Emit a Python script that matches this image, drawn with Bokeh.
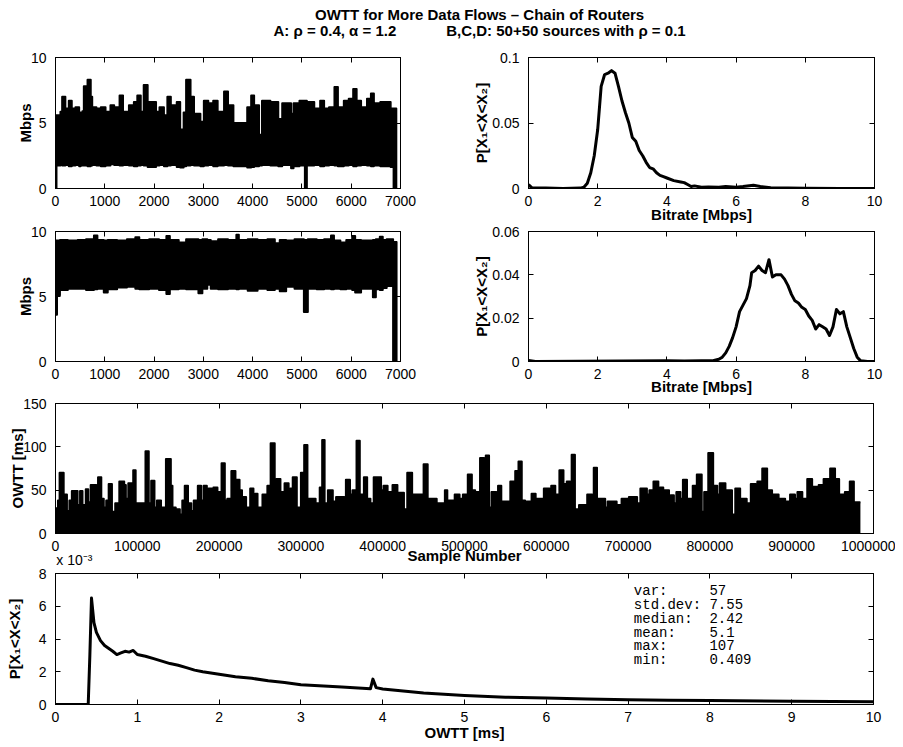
from bokeh.plotting import figure
from bokeh.layouts import column, row
from bokeh.models import Range1d, LinearAxis, FixedTicker, CustomJSTickFormatter, Label
from bokeh.embed import file_html
from bokeh.resources import INLINE

# ---------------- data ----------------
NB = "\u00a0"
title_line1 = "OWTT for More Data Flows – Chain of Routers"
title_line2 = "A: ρ = 0.4, α = 1.2" + NB * 12 + "B,C,D: 50+50 sources with ρ = 0.1"

# A: bitrate time series (upper / lower envelope of the dense trace)
rate_a_x = [0, 20, 100, 135, 200, 270, 330, 405, 480, 510,
            545, 575, 650, 715, 745, 830, 920, 1015, 1115, 1190,
            1300, 1370, 1490, 1590, 1660, 1730, 1790, 1870, 2040, 2110,
            2200, 2270, 2340, 2460, 2530, 2600, 2650, 2740, 2810, 2940,
            3010, 3100, 3200, 3290, 3420, 3500, 3610, 3890, 3970, 4030,
            4130, 4190, 4360, 4520, 4600, 4780, 4830, 4950, 5060, 5100,
            5250, 5370, 5450, 5550, 5660, 5730, 5850, 5950, 6040, 6110,
            6200, 6320, 6400, 6460, 6590, 6800, 6860, 6915]
rate_a_hi = [5.6, 5.6, 5.85, 7.0, 6.1, 6.7, 6.1, 6.2, 5.8, 4.5,
             5.9, 7.8, 8.3, 7.0, 6.2, 6.1, 6.2, 5.85, 6.35, 6.2,
             7.1, 5.85, 6.35, 6.6, 7.1, 5.85, 7.9, 6.6, 5.85, 6.2,
             5.6, 7.0, 6.35, 6.6, 4.5, 5.8, 8.3, 7.0, 5.7, 5.1,
             6.7, 6.5, 6.7, 5.85, 7.4, 6.35, 5.0, 6.2, 7.1, 6.35,
             4.1, 6.7, 6.6, 5.3, 6.5, 5.7, 6.5, 6.7, 6.7, 6.6,
             6.1, 6.7, 6.1, 6.2, 7.75, 6.2, 6.7, 6.85, 7.6, 6.7,
             6.2, 6.85, 7.25, 6.5, 6.6, 6.1, 6.1, 0]
rate_a_lo = [0, 1.75, 1.8, 1.75, 1.8, 1.7, 1.75, 1.8, 1.7, 1.75,
             1.8, 1.75, 1.7, 1.75, 1.8, 1.75, 1.7, 1.75, 1.85, 1.8,
             1.75, 1.8, 1.75, 1.7, 1.75, 1.8, 1.75, 1.65, 1.75, 1.8,
             1.7, 1.75, 1.8, 1.65, 1.6, 1.7, 1.75, 1.8, 1.75, 1.7,
             1.75, 1.8, 1.7, 1.75, 1.8, 1.75, 1.7, 1.6, 1.65, 1.7,
             1.75, 1.8, 1.75, 1.7, 1.8, 1.55, 1.7, 1.75, 0, 1.75,
             1.8, 1.7, 1.75, 1.8, 1.75, 1.7, 1.75, 1.8, 1.7, 1.75,
             1.8, 1.75, 1.7, 1.75, 1.7, 1.65, 0, 0]

# B: bitrate time series
rate_b_x = [0, 30, 90, 250, 450, 620, 780, 850, 980, 1060,
            1250, 1450, 1620, 1700, 1900, 2100, 2250, 2320, 2500, 2650,
            2900, 2980, 3080, 3150, 3300, 3500, 3670, 3720, 3900, 4100,
            4300, 4450, 4550, 4680, 4850, 5040, 5120, 5300, 5450, 5590,
            5650, 5780, 5900, 6020, 6080, 6200, 6440, 6500, 6580, 6640,
            6720, 6850, 6920]
rate_b_hi = [9.3, 9.3, 9.35, 9.3, 9.35, 9.4, 9.7, 9.35, 9.3, 9.35,
             9.3, 9.4, 9.55, 9.35, 9.4, 9.35, 9.65, 9.35, 9.15, 9.4,
             9.35, 9.4, 9.35, 9.25, 9.4, 9.35, 9.75, 9.35, 9.4, 9.35,
             9.4, 9.1, 9.35, 9.3, 9.4, 9.35, 9.4, 9.35, 9.4, 9.7,
             9.3, 9.15, 9.35, 9.65, 9.35, 9.3, 9.35, 9.4, 9.6, 9.35,
             9.4, 9.2, 0]
rate_b_lo = [3.6, 5.1, 5.5, 5.6, 5.6, 5.5, 5.55, 5.6, 5.3, 5.55,
             5.7, 5.75, 5.6, 5.55, 5.6, 5.5, 5.2, 5.55, 5.6, 5.55,
             5.25, 5.6, 5.9, 5.6, 5.55, 5.6, 5.55, 5.6, 5.45, 5.6,
             5.5, 5.6, 5.4, 5.75, 5.6, 3.8, 5.6, 5.55, 5.6, 5.55,
             5.6, 5.55, 5.6, 5.5, 5.3, 5.6, 4.95, 5.55, 5.5, 5.65,
             5.8, 0, 0]

# Bitrate PDFs
pdf_a_x = [0, 0.1, 0.5, 1.0, 1.5, 1.6, 1.7, 1.8, 1.9, 2.0,
           2.1, 2.2, 2.3, 2.4, 2.5, 2.6, 2.7, 2.8, 2.9, 3.0,
           3.1, 3.2, 3.3, 3.4, 3.5, 3.6, 3.7, 3.8, 3.9, 4.0,
           4.2, 4.4, 4.5, 4.6, 4.7, 4.8, 5.0, 5.2, 5.5, 5.7,
           6.0, 6.2, 6.5, 6.7, 7.0, 7.5, 8.0, 9.0, 10.0]
pdf_a_y = [0.003, 0.0005, 0.0003, 0.0, 0.0003, 0.001, 0.004, 0.012, 0.025, 0.045,
           0.078, 0.087, 0.088, 0.090, 0.088, 0.078, 0.067, 0.058, 0.050, 0.039,
           0.036, 0.029, 0.025, 0.020, 0.016, 0.015, 0.012, 0.010, 0.009, 0.008,
           0.006, 0.005, 0.0045, 0.003, 0.0015, 0.002, 0.001, 0.0012, 0.001, 0.0015,
           0.001, 0.0015, 0.0025, 0.0015, 0.0005, 0.0003, 0.0002, 0.0, 0.0]

pdf_b_x = [0, 0.2, 4.0, 4.5, 5.0, 5.3, 5.5, 5.6, 5.7, 5.8,
           5.9, 6.0, 6.1, 6.2, 6.3, 6.4, 6.45, 6.55, 6.65, 6.75,
           6.85, 6.95, 7.05, 7.15, 7.3, 7.4, 7.5, 7.6, 7.7, 7.8,
           7.9, 8.0, 8.1, 8.2, 8.3, 8.4, 8.5, 8.6, 8.7, 8.8,
           8.9, 9.0, 9.1, 9.2, 9.3, 9.4, 9.5, 9.6, 9.8, 10.0]
pdf_b_y = [0.0005, 0.0, 0.0003, 0.0002, 0.0003, 0.0003, 0.001, 0.002, 0.004, 0.007,
           0.011, 0.016, 0.023, 0.026, 0.029, 0.035, 0.041, 0.042, 0.044, 0.042,
           0.041, 0.047, 0.039, 0.040, 0.040, 0.038, 0.035, 0.031, 0.028, 0.027,
           0.025, 0.024, 0.021, 0.019, 0.015, 0.017, 0.016, 0.015, 0.012, 0.016,
           0.024, 0.022, 0.023, 0.016, 0.011, 0.006, 0.002, 0.0003, 0.0, 0.0]

# OWTT time series (upper envelope, ms) per sample number
owtt_x = [0, 3000, 5000, 10000, 14000, 17000, 20000, 27000, 30000, 33000,
          37000, 40000, 43000, 50000, 52000, 56000, 59000, 62000, 65000, 69000,
          73000, 78000, 84000, 86000, 89000, 95000, 98000, 110000, 114000, 117000,
          121000, 124000, 129000, 135000, 141000, 143000, 147000, 152000, 155000, 158000,
          162000, 166000, 169000, 174000, 178000, 181000, 185000, 187000, 191000, 193000,
          198000, 203000, 207000, 210000, 215000, 220000, 225000, 228000, 233000, 238000,
          242000, 244000, 247000, 253000, 259000, 263000, 268000, 270000, 275000, 280000,
          285000, 287000, 290000, 295000, 300000, 304000, 308000, 312000, 318000, 323000,
          326000, 329000, 333000, 339000, 343000, 353000, 355000, 360000, 363000, 368000,
          372000, 377000, 381000, 385000, 389000, 398000, 401000, 406000, 412000, 418000,
          426000, 430000, 436000, 450000, 455000, 466000, 476000, 479000, 488000, 494000,
          498000, 504000, 509000, 513000, 519000, 524000, 526000, 530000, 533000, 539000,
          541000, 545000, 556000, 562000, 565000, 566000, 570000, 574000, 582000, 587000,
          597000, 604000, 606000, 611000, 616000, 621000, 625000, 629000, 631000, 635000,
          640000, 650000, 656000, 658000, 662000, 672000, 675000, 686000, 692000, 701000,
          711000, 715000, 723000, 726000, 731000, 737000, 739000, 743000, 750000, 752000,
          756000, 759000, 764000, 767000, 772000, 779000, 784000, 790000, 793000, 798000,
          804000, 809000, 812000, 819000, 827000, 831000, 837000, 845000, 850000, 856000,
          858000, 864000, 870000, 876000, 884000, 892000, 898000, 904000, 907000, 913000,
          919000, 925000, 933000, 939000, 947000, 953000, 958000, 965000, 971000, 976000,
          984000]
owtt_hi = [29, 38, 70, 45, 26, 38, 49, 33, 49, 33,
           51, 36, 56, 55, 65, 40, 30, 38, 57, 25,
           35, 60, 56, 40, 58, 73, 35, 95, 35, 61,
           30, 38, 30, 86, 55, 30, 28, 22, 38, 55,
           35, 26, 38, 55, 38, 55, 40, 52, 45, 53,
           48, 81, 38, 40, 72, 62, 50, 42, 30, 52,
           35, 46, 30, 45, 55, 104, 45, 63, 48, 58,
           45, 52, 65, 30, 70, 102, 40, 40, 35, 53,
           108, 35, 50, 37, 42, 35, 62, 45, 50, 107,
           45, 65, 40, 35, 65, 50, 55, 48, 56, 47,
           28, 70, 45, 80, 40, 35, 50, 38, 45, 40,
           45, 68, 50, 48, 87, 40, 90, 30, 48, 40,
           55, 37, 60, 72, 40, 83, 38, 37, 46, 40,
           52, 45, 55, 45, 73, 57, 60, 45, 91, 28,
           33, 45, 35, 76, 40, 30, 37, 33, 40, 42,
           35, 52, 45, 50, 60, 45, 53, 50, 38, 44,
           35, 48, 40, 62, 40, 55, 68, 25, 48, 93,
           55, 45, 58, 50, 22, 52, 40, 35, 57, 45,
           60, 75, 50, 45, 40, 37, 45, 40, 48, 40,
           63, 54, 56, 63, 75, 63, 45, 48, 60, 36,
           36]

# OWTT PDF (values in units of 1e-3)
pdf_owtt_x = [0, 0.40, 0.42, 0.44, 0.47, 0.50, 0.55, 0.60, 0.70, 0.75,
              0.80, 0.85, 0.90, 0.95, 1.0, 1.1, 1.2, 1.3, 1.4, 1.5,
              1.6, 1.7, 1.8, 2.0, 2.2, 2.4, 2.6, 2.8, 3.0, 3.5,
              3.85, 3.88, 3.92, 4.0, 4.5, 5.0, 5.5, 6.0, 6.5, 7.0,
              7.5, 8.0, 9.0, 10.0]
pdf_owtt_y = [0, 0, 3.0, 6.5, 5.0, 4.4, 3.9, 3.6, 3.25, 3.05,
              3.15, 3.25, 3.2, 3.3, 3.05, 2.95, 2.8, 2.65, 2.5, 2.4,
              2.25, 2.1, 2.0, 1.85, 1.7, 1.6, 1.45, 1.35, 1.2, 1.07,
              0.96, 1.55, 1.03, 0.95, 0.70, 0.55, 0.45, 0.39, 0.33, 0.29,
              0.26, 0.24, 0.2, 0.17]

stats_names = ["var:", "std.dev:", "median:", "mean:", "max:", "min:"]
stats_values = ["57", "7.55", "2.42", "5.1", "107", "0.409"]
owtt_min = 0.409

ticks_rate_x = [0, 1000, 2000, 3000, 4000, 5000, 6000, 7000]
ticks_rate_y = [0, 5, 10]
ticks_br_x = [0, 2, 4, 6, 8, 10]
ticks_pdf_a_y = [0, 0.05, 0.1]
ticks_pdf_b_y = [0, 0.02, 0.04, 0.06]
ticks_sample_x = [0, 100000, 200000, 300000, 400000, 500000, 600000, 700000, 800000, 900000, 1000000]
ticks_owtt_y = [0, 50, 100, 150]
ticks_owtt_x = [0, 1, 2, 3, 4, 5, 6, 7, 8, 9, 10]
ticks_pdf_owtt_y = [0, 2, 4, 6, 8]

# ---------------- styling helpers ----------------
FONT = "Liberation Sans"
TICK_FS = "14px"
LABEL_FS = "15px"


def style_axis(ax, ticks, show, standoff=8):
    ax.ticker = FixedTicker(ticks=ticks)
    ax.formatter = CustomJSTickFormatter(code="return String(tick);")
    ax.major_tick_in = 5
    ax.major_tick_out = 0
    ax.minor_tick_line_color = None
    ax.axis_line_color = "black"
    ax.major_tick_line_color = "black"
    ax.major_label_text_font = FONT
    if show:
        ax.major_label_text_color = "black"
        ax.major_label_text_font_size = TICK_FS
        ax.major_label_standoff = standoff
    else:
        ax.major_label_text_color = None
        ax.major_label_text_font_size = "0px"
        ax.major_label_standoff = 0


def label_style(ax, text, standoff):
    ax.axis_label = text
    ax.axis_label_text_font = FONT
    ax.axis_label_text_font_style = "bold"
    ax.axis_label_text_font_size = LABEL_FS
    ax.axis_label_text_color = "black"
    ax.axis_label_standoff = standoff


def make_panel(width, height, xr, yr, xticks, yticks, borders,
               xlabel=None, ylabel=None, xl_standoff=-2, yl_standoff=0):
    left, right, top, bottom = borders
    p = figure(width=width, height=height, x_range=Range1d(*xr), y_range=Range1d(*yr),
               output_backend="svg", toolbar_location=None,
               min_border_left=left, min_border_right=right,
               min_border_top=top, min_border_bottom=bottom)
    p.xgrid.visible = False
    p.ygrid.visible = False
    p.outline_line_color = "black"
    p.outline_line_width = 1
    p.background_fill_color = "white"
    p.border_fill_color = "white"
    style_axis(p.xaxis[0], xticks, True, 7)
    style_axis(p.yaxis[0], yticks, True, 9)
    if xlabel:
        label_style(p.xaxis[0], xlabel, xl_standoff)
    if ylabel:
        label_style(p.yaxis[0], ylabel, yl_standoff)
    top_ax = LinearAxis()
    style_axis(top_ax, xticks, False)
    p.add_layout(top_ax, "above")
    right_ax = LinearAxis()
    style_axis(right_ax, yticks, False)
    p.add_layout(right_ax, "right")
    return p


PLABEL = "P[X₁<X<X₂]"

# ---------------- title ----------------
t = figure(width=895, height=45, x_range=Range1d(0, 895), y_range=Range1d(0, 45),
           output_backend="svg", toolbar_location=None, min_border=0,
           x_axis_location=None, y_axis_location=None)
t.grid.visible = False
t.outline_line_color = None
for txt, yy in ((title_line1, 31), (title_line2, 15)):
    t.add_layout(Label(x=464, y=yy, text=txt, text_align="center", text_baseline="middle",
                       text_font=FONT, text_font_style="bold", text_font_size="15px",
                       text_color="black"))

# ---------------- row 1 ----------------
p1 = make_panel(460, 180, (0, 7000), (0, 10), ticks_rate_x, ticks_rate_y,
                (55, 60, 12, 37), ylabel="Mbps", yl_standoff=-6)
p1.varea_step(x=rate_a_x, y1=rate_a_lo, y2=rate_a_hi, step_mode="after", fill_color="black")
p1.step(rate_a_x, rate_a_hi, mode="after", line_color="black", line_width=2, line_join="round")
p1.step(rate_a_x, rate_a_lo, mode="after", line_color="black", line_width=2, line_join="round")

p2 = make_panel(435, 180, (0, 10), (0, 0.1), ticks_br_x, ticks_pdf_a_y,
                (68, 21, 12, 37), xlabel="Bitrate [Mbps]", ylabel=PLABEL,
                xl_standoff=-3, yl_standoff=-1)
p2.line(pdf_a_x, pdf_a_y, line_color="black", line_width=3, line_join="round")

# ---------------- row 2 ----------------
p3 = make_panel(460, 172, (0, 7000), (0, 10), ticks_rate_x, ticks_rate_y,
                (55, 60, 6, 36), ylabel="Mbps", yl_standoff=-6)
p3.varea_step(x=rate_b_x, y1=rate_b_lo, y2=rate_b_hi, step_mode="after", fill_color="black")
p3.step(rate_b_x, rate_b_hi, mode="after", line_color="black", line_width=2, line_join="round")
p3.step(rate_b_x, rate_b_lo, mode="after", line_color="black", line_width=2, line_join="round")

p4 = make_panel(435, 172, (0, 10), (0, 0.06), ticks_br_x, ticks_pdf_b_y,
                (68, 21, 6, 36), xlabel="Bitrate [Mbps]", ylabel=PLABEL,
                xl_standoff=-4, yl_standoff=-1)
p4.line(pdf_b_x, pdf_b_y, line_color="black", line_width=3, line_join="round")

# ---------------- row 3 ----------------
p5 = make_panel(895, 170, (0, 1000000), (0, 150), ticks_sample_x, ticks_owtt_y,
                (55, 22, 6, 34), ylabel="OWTT [ms]", yl_standoff=-6)
p5.varea_step(x=owtt_x, y1=owtt_min, y2=owtt_hi, step_mode="after", fill_color="black")
p5.step(owtt_x, owtt_hi, mode="after", line_color="black", line_width=2, line_join="round")
# second text row below the ticks: scale note of the panel below + "Sample Number"
sci_ax = LinearAxis(ticker=FixedTicker(ticks=[23000]),
                    formatter=CustomJSTickFormatter(code="return 'x 10\\u207b\\u00b3';"))
sci_ax.axis_line_color = None
sci_ax.major_tick_line_color = None
sci_ax.minor_tick_line_color = None
sci_ax.major_label_text_font = FONT
sci_ax.major_label_text_font_size = TICK_FS
sci_ax.major_label_text_color = "black"
sci_ax.major_label_standoff = -8
label_style(sci_ax, "Sample Number", -24)
p5.add_layout(sci_ax, "below")

# ---------------- row 4 ----------------
p6 = make_panel(895, 176, (0, 10), (0, 8), ticks_owtt_x, ticks_pdf_owtt_y,
                (55, 22, 6, 39), xlabel="OWTT [ms]", ylabel=PLABEL,
                xl_standoff=-1, yl_standoff=13)
p6.line(pdf_owtt_x, pdf_owtt_y, line_color="black", line_width=3, line_join="round")
stats_text = "\n".join(n + NB * (9 - len(n)) + v for n, v in zip(stats_names, stats_values))
p6.add_layout(Label(x=7.07, y=7.4, text=stats_text, text_align="left", text_baseline="top",
                    text_font="Liberation Mono", text_font_size="14px", text_line_height=0.86,
                    text_color="black"))

layout = column(t, row(p1, p2), row(p3, p4), p5, p6)

open("out.html", "w").write(file_html(layout, INLINE))
